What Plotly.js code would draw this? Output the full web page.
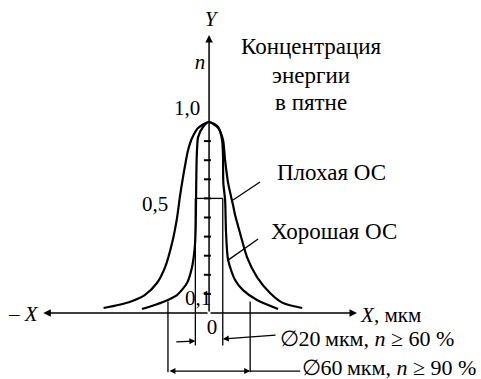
<!DOCTYPE html>
<html>
<head>
<meta charset="utf-8">
<script src="https://cdn.plot.ly/plotly-3.0.1.min.js"></script>
<style>
  html, body { margin: 0; padding: 0; background: #fff; }
  #wrap { position: relative; width: 481px; height: 379px; }
  #chart { width: 481px; height: 379px; }
  #labels { position: absolute; left: 0; top: 0; pointer-events: none; }
  #labels text { font-family: 'Liberation Serif', serif; fill: #000; white-space: pre; }
</style>
</head>
<body>
<div id="wrap">
  <div id="chart"></div>
  <svg id="labels" width="481" height="379" xmlns="http://www.w3.org/2000/svg"></svg>
</div>
<script>
// Energy distribution across the spot, x in µm, n relative to the peak.
// Poor feedback (wide profile)
const xPoor = [-77, -58, -47, -38, -32, -27, -23.4, -21.2, -19, -16.8, -15.3, -12.4, -8, 0,
               6.6, 10.2, 11.7, 13.9, 17.5, 19, 22.6, 27.7, 35, 44.5, 54, 68];
const nPoor = [0.026, 0.058, 0.094, 0.157, 0.241, 0.366, 0.497, 0.613, 0.712, 0.801, 0.853, 0.916, 0.969, 1.0,
               0.969, 0.906, 0.801, 0.681, 0.565, 0.513, 0.419, 0.293, 0.188, 0.105, 0.052, 0.026];

// Good feedback (narrow profile)
const xGood = [-49, -33.6, -23.4, -16.1, -12.4, -10.4, -9.8, -9.5, -9.2, -8.8, -8, -4.4, 0,
               6.6, 9.5, 10.2, 10.4, 11.7, 12.4, 13.9, 19, 24.8, 35, 50.4];
const nGood = [0.021, 0.058, 0.094, 0.157, 0.241, 0.346, 0.435, 0.592, 0.764, 0.853, 0.921, 0.974, 1.0,
               0.974, 0.906, 0.817, 0.681, 0.592, 0.419, 0.277, 0.173, 0.12, 0.068, 0.021];

// Minor ticks on the n axis
const tickN = [0.1, 0.2, 0.3, 0.4, 0.5, 0.6, 0.7, 0.8, 0.9];

// Axis labels and their positions
const nLabels = ['1,0', '0,5', '0,1'];
const nLabelX = [-16, -39.4, -8];
const nLabelY = [1.073, 0.571, 0.079];

// Spot diameters (µm) and the energy fraction inside them
const spotD = [20, 60];
const spotN = [0.6, 0.06];

const ink = '#000';

const traces = [
  { x: xPoor, y: nPoor, mode: 'lines', line: { color: ink, width: 2.2, shape: 'spline', smoothing: 0.7 }, hoverinfo: 'skip' },
  { x: xGood, y: nGood, mode: 'lines', line: { color: ink, width: 2.2, shape: 'spline', smoothing: 0.7 }, hoverinfo: 'skip' },
  { x: tickN.map(() => -1.2), y: tickN, mode: 'markers',
    marker: { symbol: 'line-ew', size: 5, line: { color: ink, width: 2 } }, hoverinfo: 'skip' }
];

const r20 = spotD[0] / 2, r60 = spotD[1] / 2;
const shapes = [
  // Ø20 markers
  { type: 'line', x0: -r20, x1: -r20, y0: spotN[0], y1: -0.17, line: { color: ink, width: 1.3 } },
  { type: 'line', x0: r20, x1: r20, y0: spotN[0], y1: -0.17, line: { color: ink, width: 1.3 } },
  { type: 'line', x0: -r20, x1: r20, y0: spotN[0], y1: spotN[0], line: { color: ink, width: 1.3 } },
  // Ø60 markers
  { type: 'line', x0: -r60, x1: -r60, y0: spotN[1], y1: -0.31, line: { color: ink, width: 1.3 } },
  { type: 'line', x0: r60, x1: r60, y0: spotN[1], y1: -0.31, line: { color: ink, width: 1.3 } },
  { type: 'line', x0: r60, x1: 66.5, y0: -0.304, y1: -0.304, line: { color: ink, width: 1.3 } },
  // leaders
  { type: 'line', x0: 17.5, x1: 37.2, y0: 0.592, y1: 0.686, line: { color: ink, width: 1.3 } },
  { type: 'line', x0: 13.9, x1: 35.8, y0: 0.277, y1: 0.387, line: { color: ink, width: 1.3 } }
];

function arrow(x, y, ax, ay, extra) {
  return Object.assign({ x: x, y: y, ax: ax, ay: ay, xref: 'x', yref: 'y', axref: 'x', ayref: 'y',
    text: '', showarrow: true, arrowhead: 2, arrowsize: 1, arrowwidth: 1.5, arrowcolor: ink }, extra || {});
}

const annotations = [
  // axes
  arrow(0, 1.455, 0, 0),
  arrow(108, 0, 0, 0),
  arrow(-121, 0, 0, 0),
  // dimension arrows
  arrow(-r20, -0.147, -25, -0.152, { arrowwidth: 1.2 }),
  arrow(r20, -0.136, 49.6, -0.115, { arrowwidth: 1.2 }),
  arrow(r60, -0.304, -r60, -0.304, { arrowwidth: 1.2, arrowside: 'end+start' })
];

// Text labels in data coordinates: [text, x, n, size, anchor]
const texts = [
  ['<i>Y</i>', 1.2, 1.539, 21, 'middle'],
  ['<i>n</i>', -6.6, 1.314, 21, 'middle'],
  ['Концентрация', 74.5, 1.398, 23, 'middle'],
  ['энергии', 74.5, 1.246, 23, 'middle'],
  ['в пятне', 74.5, 1.105, 23, 'middle'],
  ['Плохая ОС', 49.6, 0.738, 23, 'start'],
  ['Хорошая ОС', 45.3, 0.429, 23, 'start'],
  ['<i>X</i>, мкм', 111, -0.01, 21, 'start'],
  ['– <i>X</i>', -146, -0.005, 21, 'start'],
  ['∅20\u2009мкм, <i>n</i> ≥ 60 %', 51.5, -0.131, 22, 'start'],
  ['∅60\u2009мкм, <i>n</i> ≥ 90 %', 67.5, -0.283, 22, 'start'],
  ['0', 2.2, -0.073, 21, 'middle']
];
nLabels.forEach((t, i) => texts.push([t, nLabelX[i], nLabelY[i], 21, 'middle']));

const layout = {
  width: 481, height: 379, autosize: false,
  margin: { l: 0, r: 0, t: 0, b: 0, pad: 0 },
  paper_bgcolor: '#fff', plot_bgcolor: '#fff',
  showlegend: false,
  font: { family: 'Liberation Serif' },
  xaxis: { range: [-152.6, 198.5], visible: false, fixedrange: true },
  yaxis: { range: [-0.3455, 1.6387], visible: false, fixedrange: true },
  shapes: shapes,
  annotations: annotations
};

const SVGNS = 'http://www.w3.org/2000/svg';

// Place the labels through the chart's own axis scales.
function drawLabels(gd) {
  const xa = gd._fullLayout.xaxis, ya = gd._fullLayout.yaxis;
  const svg = document.getElementById('labels');
  texts.forEach(([str, x, n, size, anchor]) => {
    const px = xa._offset + xa.d2p(x);
    const py = ya._offset + ya.d2p(n) + 0.3375 * size;
    const t = document.createElementNS(SVGNS, 'text');
    t.setAttribute('x', px.toFixed(1));
    t.setAttribute('y', py.toFixed(1));
    t.setAttribute('text-anchor', anchor);
    t.setAttribute('font-size', size);
    str.split(/(<i>.*?<\/i>)/).filter(s => s.length).forEach(part => {
      const span = document.createElementNS(SVGNS, 'tspan');
      const m = part.match(/^<i>(.*)<\/i>$/);
      span.textContent = m ? m[1] : part;
      if (m) span.setAttribute('font-style', 'italic');
      t.appendChild(span);
    });
    svg.appendChild(t);
  });
}

Plotly.newPlot('chart', traces, layout, { staticPlot: true, displayModeBar: false }).then(drawLabels);
</script>
</body>
</html>
